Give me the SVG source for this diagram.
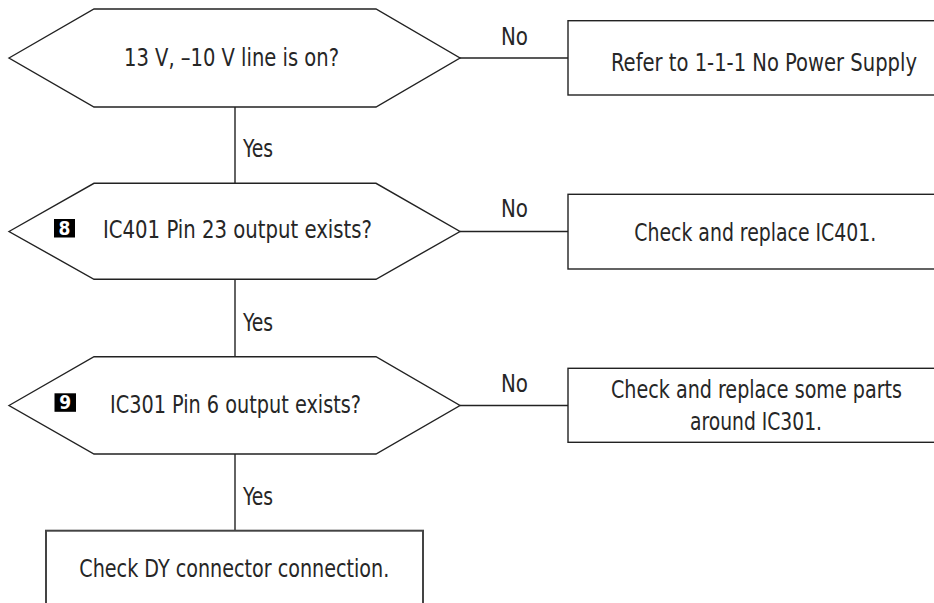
<svg xmlns="http://www.w3.org/2000/svg" width="934" height="603" viewBox="0 0 934 603">
<style>
.shape{fill:#fff;stroke:#222;stroke-width:1.4}
.box4{fill:#fff;stroke:#444;stroke-width:2}
.line{fill:none;stroke:#222;stroke-width:1.4}
text{font-family:"Liberation Sans Narrow","DejaVu Sans Condensed","Liberation Sans",sans-serif;font-size:25px;fill:#262626}
.badge{fill:#000}
.bnum{font-family:"Liberation Sans Narrow","DejaVu Sans Condensed","Liberation Sans",sans-serif;font-weight:bold;font-size:19px;fill:#fff;text-anchor:middle}
</style>
<rect width="934" height="603" fill="#fff"/>
<g id="connectors">
<line class="line" x1="460" y1="58" x2="568" y2="58"/>
<line class="line" x1="460" y1="231.5" x2="568" y2="231.5"/>
<line class="line" x1="460" y1="405.5" x2="568" y2="405.5"/>
<line class="line" x1="235" y1="107" x2="235" y2="183.3"/>
<line class="line" x1="235" y1="279.3" x2="235" y2="356.7"/>
<line class="line" x1="235" y1="454" x2="235" y2="530.7"/>
<text x="501" y="45" textLength="27" lengthAdjust="spacingAndGlyphs">No</text>
<text x="501" y="216.7" textLength="27" lengthAdjust="spacingAndGlyphs">No</text>
<text x="501" y="391.7" textLength="27" lengthAdjust="spacingAndGlyphs">No</text>
<text x="243" y="156.7" textLength="30" lengthAdjust="spacingAndGlyphs">Yes</text>
<text x="243" y="330.7" textLength="30" lengthAdjust="spacingAndGlyphs">Yes</text>
<text x="243" y="505" textLength="30" lengthAdjust="spacingAndGlyphs">Yes</text>
</g>
<g id="d1">
<polygon class="shape" points="9,58 94,9 376,9 460,58 376,107 94,107"/>
<text x="124" y="66" textLength="215" lengthAdjust="spacingAndGlyphs">13 V, –10 V line is on?</text>
</g>
<g id="b1">
<rect class="shape" x="568" y="20.7" width="367" height="74.3"/>
<text x="611" y="71" textLength="306" lengthAdjust="spacingAndGlyphs">Refer to 1-1-1 No Power Supply</text>
</g>
<g id="d2">
<polygon class="shape" points="9,231.5 94,183.3 376,183.3 460,231.5 376,279.3 94,279.3"/>
<rect class="badge" x="54" y="219" width="21" height="18.5"/>
<text class="bnum" x="64.5" y="235">8</text>
<text x="103" y="238.3" textLength="269" lengthAdjust="spacingAndGlyphs">IC401 Pin 23 output exists?</text>
</g>
<g id="b2">
<rect class="shape" x="568" y="194.3" width="367" height="74.7"/>
<text x="634.3" y="240.7" textLength="242" lengthAdjust="spacingAndGlyphs">Check and replace IC401.</text>
</g>
<g id="d3">
<polygon class="shape" points="9,405.5 94,356.7 376,356.7 460,405.5 376,454 94,454"/>
<rect class="badge" x="54.5" y="393.3" width="21.5" height="18.5"/>
<text class="bnum" x="65.2" y="409.3">9</text>
<text x="110" y="412.7" textLength="251" lengthAdjust="spacingAndGlyphs">IC301 Pin 6 output exists?</text>
</g>
<g id="b3">
<rect class="shape" x="568" y="368.3" width="367" height="74"/>
<text x="611" y="398.3" textLength="291" lengthAdjust="spacingAndGlyphs">Check and replace some parts</text>
<text x="690" y="430" textLength="132" lengthAdjust="spacingAndGlyphs">around IC301.</text>
</g>
<g id="b4">
<rect class="box4" x="46" y="530.7" width="377" height="90"/>
<text x="79.3" y="576.7" textLength="310" lengthAdjust="spacingAndGlyphs">Check DY connector connection.</text>
</g>
</svg>
